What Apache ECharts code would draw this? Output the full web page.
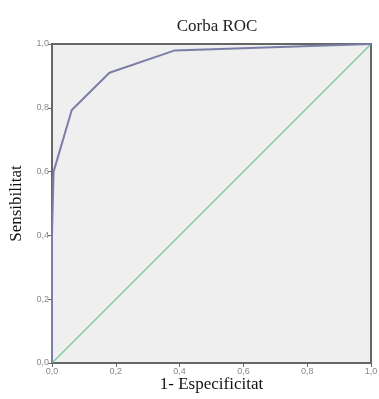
<!DOCTYPE html>
<html>
<head>
<meta charset="utf-8">
<script src="https://cdn.jsdelivr.net/npm/echarts@6/dist/echarts.min.js"></script>
<style>
  html, body { margin: 0; padding: 0; background: #fff; }
  #chart { width: 379px; height: 399px; }
</style>
</head>
<body>
<div id="chart"></div>
<script>
// ROC curve points [1 - specificity, sensitivity]
const rocX = [0, 0, 0.005, 0.062, 0.18, 0.385, 1]
const rocY = [0, 0.4, 0.6, 0.793, 0.91, 0.98, 1]
// reference diagonal
const diagX = [0, 1]
const diagY = [0, 1]
const tickValues = [0, 0.2, 0.4, 0.6, 0.8, 1]

const chart = echarts.init(document.getElementById('chart'))

const fmt = v => v.toFixed(1).replace('.', ',')

const axisCommon = {
  type: 'value',
  min: 0,
  max: 1,
  interval: 0.2,
  axisLine: { show: true, lineStyle: { color: '#666', width: 2 } },
  axisTick: { show: true, length: 4, inside: false, lineStyle: { color: '#666' } },
  axisLabel: { formatter: fmt, fontSize: 9, color: '#888', fontFamily: 'Arial' },
  splitLine: { show: false },
  nameLocation: 'middle',
  nameMoveOverlap: false,
  nameTextStyle: { fontFamily: 'Liberation Serif', fontSize: 17, color: '#111' }
}

const option = {
  animation: false,
  backgroundColor: '#fff',
  title: {
    text: 'Corba ROC',
    left: 212,
    textAlign: 'center',
    top: 13,
    textStyle: { fontFamily: 'Liberation Serif', fontSize: 17, fontWeight: 'normal', color: '#222' }
  },
  grid: {
    left: 52, right: 8, top: 44, bottom: 36,
    outerBoundsMode: 'none',
    containLabel: false,
    show: true,
    backgroundColor: '#efefef',
    borderColor: '#666',
    borderWidth: 2
  },
  xAxis: Object.assign({}, axisCommon, {
    name: '1- Especificitat',
    nameGap: 13,
    axisLabel: Object.assign({}, axisCommon.axisLabel, { margin: 4 })
  }),
  yAxis: Object.assign({}, axisCommon, {
    name: 'Sensibilitat',
    nameGap: 27,
    axisLabel: Object.assign({}, axisCommon.axisLabel, { margin: 3 })
  }),
  series: [
    {
      type: 'line',
      data: diagX.map((x, i) => [x, diagY[i]]),
      symbol: 'none',
      lineStyle: { color: '#7fcaa0', width: 1.5 }
    },
    {
      type: 'line',
      data: rocX.map((x, i) => [x, rocY[i]]),
      symbol: 'none',
      lineStyle: { color: '#7b7ea6', width: 2 }
    }
  ]
}

chart.setOption(option)
</script>
</body>
</html>
